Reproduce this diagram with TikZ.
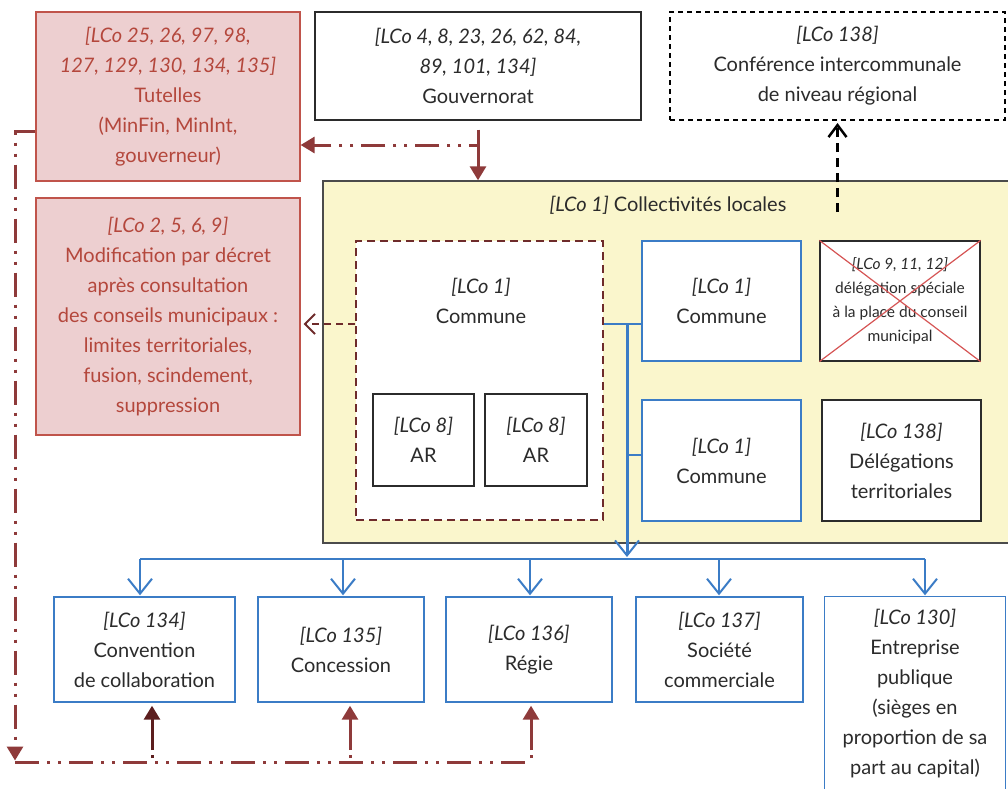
\documentclass[tikz,border=0pt]{standalone}
\usepackage{fontspec}
\setmainfont{Lato}
\usetikzlibrary{arrows.meta}

\definecolor{pinkfill}{HTML}{EDCFD0}
\definecolor{pinkline}{HTML}{C0544B}
\definecolor{pinktext}{HTML}{B4473C}
\definecolor{wine}{HTML}{8E3A3A}
\definecolor{darkwine}{HTML}{5C1E1E}
\definecolor{dashwine}{HTML}{6E2B2B}
\definecolor{paleyellow}{HTML}{FAF6CC}
\definecolor{blueline}{HTML}{3B7CC6}
\definecolor{ink}{HTML}{2B2B2B}
\definecolor{crossred}{HTML}{D65555}

\newcommand{\lco}[1]{\textit{[LCo #1]}}

\begin{document}
\begin{tikzpicture}[x=1pt,y=-1pt,
  font=\fontsize{20}{30}\selectfont,
  box/.style={draw=ink, line width=1.2pt, inner sep=0pt, align=center, text=ink, fill=white},
  pinkbox/.style={draw=pinkline, line width=1.2pt, fill=pinkfill, inner sep=0pt, align=center, text=pinktext},
  bluebox/.style={draw=blueline, line width=1.4pt, fill=white, inner sep=0pt, align=center, text=ink},
  dashdotdot/.style={dash pattern=on 24pt off 8pt on 3pt off 8pt on 3pt off 8pt},
  redlink/.style={draw=wine, line width=3pt, dashdotdot},
  redtip/.style={-{Triangle[length=14pt,width=16pt]}},
  bluetip/.style={-{Straight Barb[length=15pt,width=24pt,line width=2pt]}},
  bluelink/.style={draw=blueline, line width=2.4pt},
]
\useasboundingbox (0,0) rectangle (1008,788);

% ---- upper row
\node[pinkbox, minimum width=264pt, minimum height=169pt] (tut) at (168,96.5)
  {\textit{[LCo 25, 26, 97, 98,}\\\textit{127, 129, 130, 134, 135]}\\Tutelles\\(MinFin, MinInt,\\gouverneur)};
\node[box, minimum width=326pt, minimum height=108pt] (gouv) at (478,66)
  {\textit{[LCo 4, 8, 23, 26, 62, 84,}\\\textit{89, 101, 134]}\\Gouvernorat};
\node[box, draw=black, line width=2pt, dash pattern=on 5pt off 4pt, minimum width=335pt, minimum height=108pt] (conf) at (837.5,66)
  {\lco{138}\\Conférence intercommunale\\de niveau régional};

% ---- boundary changes
\node[pinkbox, minimum width=264pt, minimum height=237pt] (modif) at (168,316.5)
  {\lco{2, 5, 6, 9}\\Modification par décret\\après consultation\\des conseils municipaux :\\limites territoriales,\\fusion, scindement,\\suppression};

% ---- local authorities
\node[draw=ink!85, line width=1.4pt, fill=paleyellow, minimum width=687pt, minimum height=362pt, inner sep=0pt] (coll) at (666.5,362) {};
\node[text=ink, inner sep=0pt] (colltitle) at (668,205) {\lco{1} Collectivités locales};

\node[draw=dashwine, line width=2pt, dash pattern=on 8pt off 5pt, fill=white, minimum width=247pt, minimum height=279pt, inner sep=0pt] (comm1) at (479.5,380.5) {};
\node[text=ink, align=center, inner sep=0pt] (comm1txt) at (481,301) {\lco{1}\\Commune};
\node[box, minimum width=101pt, minimum height=92pt] (ar1) at (423.5,440) {\lco{8}\\AR};
\node[box, minimum width=102pt, minimum height=92pt] (ar2) at (536,440) {\lco{8}\\AR};

\node[bluebox, minimum width=159pt, minimum height=120pt] (comm2) at (721.5,301) {\lco{1}\\Commune};
\node[bluebox, minimum width=159pt, minimum height=121pt] (comm3) at (721.5,460.5) {\lco{1}\\Commune};
\node[box, minimum width=160pt, minimum height=120pt, font=\fontsize{15.5}{24}\selectfont] (delsp) at (900,301)
  {\lco{9, 11, 12}\\délégation spéciale\\à la place du conseil\\municipal};
\draw[crossred, line width=1.2pt] (delsp.north west) -- (delsp.south east)
  (delsp.south west) -- (delsp.north east);
\node[box, minimum width=159pt, minimum height=121pt] (delter) at (901.5,460.5) {\lco{138}\\Délégations\\territoriales};

% ---- management forms
\node[bluebox, minimum width=181pt, minimum height=105pt] (conv) at (144.5,649.5) {\lco{134}\\Convention\\de collaboration};
\node[bluebox, minimum width=166pt, minimum height=105pt] (conc) at (341,649.5) {\lco{135}\\Concession};
\node[bluebox, minimum width=166pt, minimum height=105pt] (regie) at (529,649.5) {\lco{136}\\Régie};
\node[bluebox, minimum width=167pt, minimum height=105pt] (soc) at (719.5,649.5) {\lco{137}\\Société\\commerciale};
\node[bluebox, draw=none, minimum width=180pt, minimum height=193pt] (entr) at (915,693.5)
  {\lco{130}\\Entreprise\\publique\\(sièges en\\proportion de sa\\part au capital)};
\draw[blueline, line width=1.4pt] (entr.south west) -- (entr.north west) -- (entr.north east) -- (entr.south east);

% ---- blue links from the communes to the management forms
\coordinate (hub) at (627,324);
\coordinate (hub3) at (627,455);
\coordinate (drop) at (627,557);
\draw[bluelink] (comm1.east |- hub) -- (comm2.west |- hub);
\draw[bluelink] (hub3) -- (comm3.west |- hub3);
\draw[bluelink, line width=3pt, bluetip] (hub) -- (drop);

\coordinate (b1) at (140,559);
\coordinate (b2) at (343,559);
\coordinate (b3) at (530,559);
\coordinate (b4) at (719,559);
\coordinate (b5) at (925,559);
\draw[bluelink] (b1) -- (b5);
\foreach \p/\t in {b1/conv, b2/conc, b3/regie, b4/soc, b5/entr}
  \draw[bluelink, bluetip, shorten >=1pt] (\p) -- (\p |- \t.north);

% ---- supervision links
\coordinate (gsplit) at (478,145);
\draw[redlink, redtip] ([yshift=-9pt]gouv.south -| gsplit) -- (gsplit) -- (tut.east |- gsplit);
\draw[wine, line width=3pt, redtip] (gsplit) -- (gsplit |- coll.north);

\coordinate (lstart) at (36,131);
\coordinate (lcorner) at (15,762);
\draw[redlink, redtip] (tut.west |- lstart) -| ([yshift=1.5pt]lcorner);
\coordinate (u1) at (152,762);
\coordinate (u2) at (350,762);
\coordinate (u3) at (531,762);
\draw[redlink] (lcorner) -- (u3);
\draw[darkwine, line width=3pt, redtip, dash pattern=on 0pt off 4pt on 3pt off 5pt on 80pt, shorten >=3pt] (u1) -- (u1 |- conv.south);
\draw[wine, line width=3pt, redtip, dash pattern=on 0pt off 4pt on 3pt off 5pt on 80pt, shorten >=3pt] (u2) -- (u2 |- conc.south);
\draw[wine, line width=3pt, redtip, dash pattern=on 0pt off 4pt on 3pt off 5pt on 80pt, shorten >=3pt] (u3) -- (u3 |- regie.south);

% ---- boundary modification and intercommunal conference
\draw[dashwine, line width=2pt, dash pattern=on 7pt off 5pt, -{Straight Barb[length=10pt,width=20pt,line width=2pt]}]
  (comm1.west |- hub) -- ([xshift=3pt]modif.east |- hub);
\draw[black, line width=2.5pt, dash pattern=on 9pt off 6pt, -{Straight Barb[length=12pt,width=18pt,line width=2.5pt]}, shorten >=2pt]
  (conf.south |- 0,212) -- (conf.south);
\end{tikzpicture}
\end{document}
